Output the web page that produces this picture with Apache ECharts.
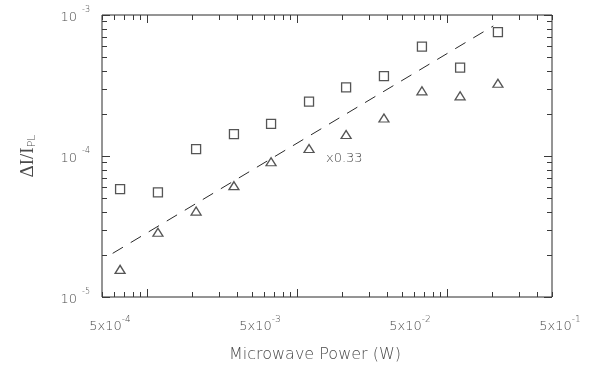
<!DOCTYPE html>
<html>
<head>
<meta charset="utf-8">
<script src="https://cdn.jsdelivr.net/npm/echarts@6/dist/echarts.min.js"></script>
<style>
  html, body { margin: 0; padding: 0; background: #fff; }
  #chart { width: 590px; height: 369px; }
</style>
</head>
<body>
<div id="chart"></div>
<script>
// microwave power (W)
var powerValues = [6.6e-4, 1.18e-3, 2.12e-3, 3.79e-3, 6.7e-3, 1.2e-2, 2.12e-2, 3.79e-2, 6.79e-2, 0.122, 0.218];
// open squares
var squareValues = [5.83e-5, 5.52e-5, 1.12e-4, 1.43e-4, 1.69e-4, 2.43e-4, 3.07e-4, 3.69e-4, 5.96e-4, 4.23e-4, 7.57e-4];
// open triangles
var triangleValues = [1.57e-5, 2.88e-5, 4.07e-5, 6.16e-5, 9.11e-5, 1.13e-4, 1.42e-4, 1.86e-4, 2.90e-4, 2.67e-4, 3.28e-4];
// dashed fit line end points
var fitX = [5.89e-4, 0.203];
var fitY = [2.04e-5, 8.36e-4];

var xMin = 5e-4, xMax = 5e-1;
var yMin = 1e-5, yMax = 1e-3;
var xLabelValues = [5e-4, 5e-3, 5e-2, 5e-1];
var xLabelExps = ['-4', '-3', '-2', '-1'];
var decades = [-5, -4, -3, -2, -1];
var mantissas = [1, 2, 3, 4, 5, 6, 7, 8, 9];

var ink = '#2a2a2a';
var textInk = '#4a4a4a';
var font = 'DejaVu Sans';

// tick marks on all four sides, inward
var tickData = [];
decades.forEach(function (d) {
  mantissas.forEach(function (m) {
    var v = m * Math.pow(10, d);
    if (v >= xMin * 0.999 && v <= xMax * 1.001) tickData.push([v, yMin, 0, m === 1 ? 1 : 0]);
    if (v >= yMin * 0.999 && v <= yMax * 1.001) tickData.push([xMin, v, 1, m === 1 ? 1 : 0]);
  });
});

var xLabelData = xLabelValues.map(function (v, i) { return [v, yMin, i]; });

function renderTick(params, api) {
  var cs = params.coordSys;
  var p = api.coord([api.value(0), api.value(1)]);
  var len = api.value(3) ? 8 : 5;
  var st = { stroke: '#3a3a3a', lineWidth: 1 };
  if (api.value(2) === 0) {
    var x = Math.round(p[0]) + 0.5;
    var yb = cs.y + cs.height, yt = cs.y;
    return { type: 'group', children: [
      { type: 'line', shape: { x1: x, y1: yb, x2: x, y2: yb - len }, style: st },
      { type: 'line', shape: { x1: x, y1: yt, x2: x, y2: yt + len }, style: st }
    ] };
  }
  var y = Math.round(p[1]) + 0.5;
  var xl = cs.x, xr = cs.x + cs.width;
  return { type: 'group', children: [
    { type: 'line', shape: { x1: xl, y1: y, x2: xl + len, y2: y }, style: st },
    { type: 'line', shape: { x1: xr, y1: y, x2: xr - len, y2: y }, style: st }
  ] };
}

function renderXLabel(params, api) {
  var cs = params.coordSys;
  var p = api.coord([api.value(0), api.value(1)]);
  var i = api.value(2);
  return {
    type: 'text',
    x: p[0] + 8,
    y: cs.y + cs.height + 36,
    style: {
      text: '{b|5x10}{s|' + xLabelExps[i] + '}',
      align: 'center',
      verticalAlign: 'bottom',
      rich: {
        b: { fontFamily: font, fontSize: 13, fontWeight: 200, fill: textInk, padding: [5, 0, 0, 0], verticalAlign: 'bottom' },
        s: { fontFamily: font, fontSize: 9, fontWeight: 200, fill: textInk, verticalAlign: 'top' }
      }
    }
  };
}

var chart = echarts.init(document.getElementById('chart'));
chart.setOption({
  animation: false,
  backgroundColor: '#fff',
  grid: { left: 102, right: 38, top: 15, bottom: 72, show: true, borderColor: ink, borderWidth: 1 },
  xAxis: {
    type: 'log', logBase: 10, min: xMin, max: xMax,
    axisLine: { show: false }, axisTick: { show: false }, axisLabel: { show: false },
    splitLine: { show: false }, minorTick: { show: false },
    name: 'Microwave Power (W)', nameLocation: 'middle', nameGap: 50,
    nameTextStyle: { fontFamily: font, fontSize: 16, fontWeight: 200, color: textInk, padding: [0, 24, 0, 0] }
  },
  yAxis: {
    type: 'log', logBase: 10, min: yMin, max: yMax,
    axisLine: { show: false }, axisTick: { show: false }, splitLine: { show: false },
    axisLabel: {
      margin: 12,
      formatter: function (v) {
        return '{b|10}{s|  ' + Math.round(Math.log10(v)) + '}';
      },
      rich: {
        b: { fontFamily: font, fontSize: 13, fontWeight: 200, color: textInk, padding: [5, 0, 0, 0], verticalAlign: 'bottom' },
        s: { fontFamily: font, fontSize: 8, fontWeight: 200, color: textInk, verticalAlign: 'top' }
      }
    },
    name: 'ΔI/I{sub|PL}', nameLocation: 'middle', nameGap: 64,
    nameTextStyle: {
      fontFamily: 'Liberation Serif', fontSize: 19, color: textInk, verticalAlign: 'bottom',
      rich: {
        sub: { fontFamily: font, fontSize: 11, fontWeight: 200, color: textInk, padding: [9, 0, 0, 0], verticalAlign: 'bottom' }
      }
    }
  },
  graphic: [{
    type: 'text', left: 326, top: 152, silent: true,
    style: { text: 'x0.33', fontFamily: font, fontSize: 13, fontWeight: 200, fill: textInk }
  }],
  series: [
    {
      type: 'custom', silent: true, renderItem: renderTick, data: tickData,
      encode: { x: 0, y: 1 }, clip: false, z: 1
    },
    {
      type: 'custom', silent: true, renderItem: renderXLabel, data: xLabelData,
      encode: { x: 0, y: 1 }, clip: false, z: 1
    },
    {
      type: 'line', silent: true, symbol: 'none',
      data: fitX.map(function (x, i) { return [x, fitY[i]]; }),
      lineStyle: { color: ink, width: 1, type: [12, 9] }, z: 2
    },
    {
      type: 'scatter', silent: true, symbol: 'rect', symbolSize: 9,
      data: powerValues.map(function (x, i) { return [x, squareValues[i]]; }),
      itemStyle: { color: '#fff', borderColor: ink, borderWidth: 1.3 }, z: 3
    },
    {
      type: 'scatter', silent: true, symbol: 'triangle', symbolSize: [10, 8],
      data: powerValues.map(function (x, i) { return [x, triangleValues[i]]; }),
      itemStyle: { color: '#fff', borderColor: ink, borderWidth: 1.3 }, z: 3
    }
  ]
});
</script>
</body>
</html>
